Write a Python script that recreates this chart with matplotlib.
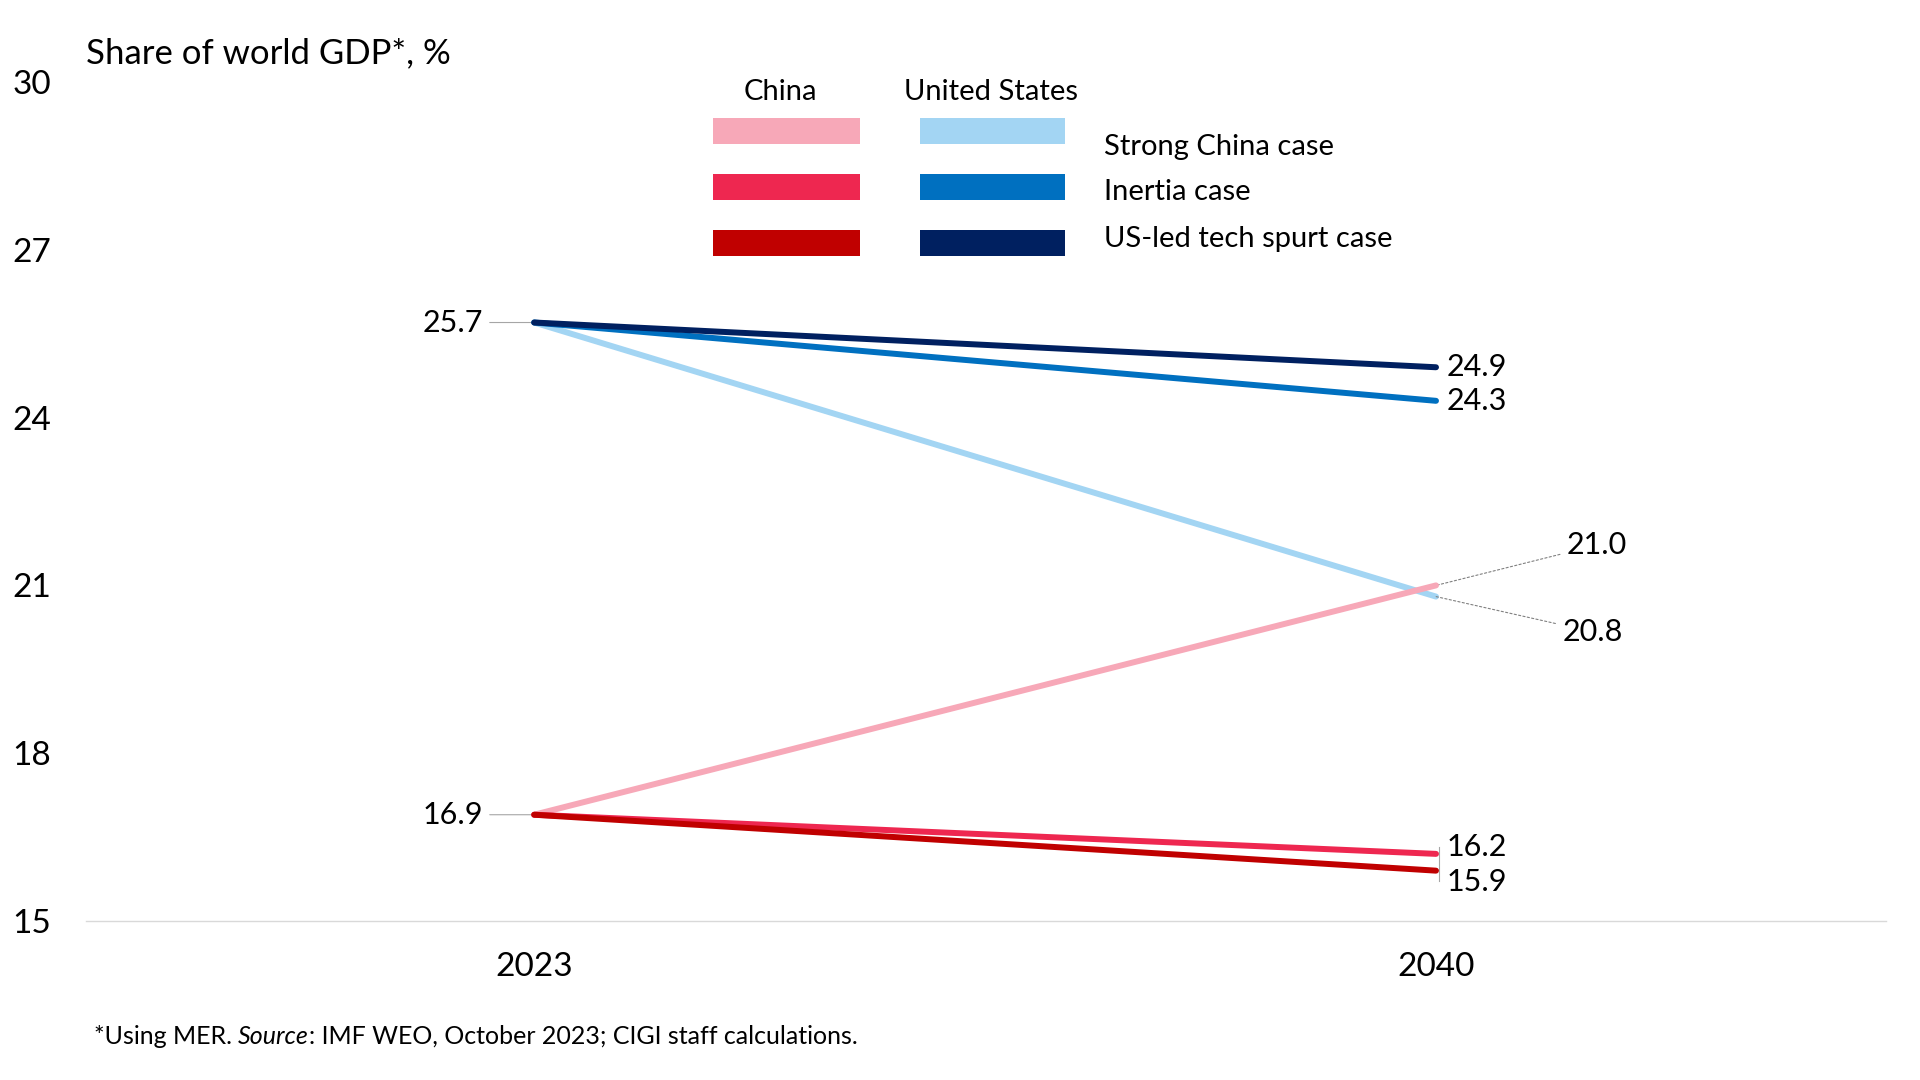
import matplotlib
matplotlib.use("Agg")
import matplotlib.pyplot as plt
from matplotlib.patches import Rectangle

plt.rcParams["font.family"] = ["Lato", "DejaVu Sans"]

# data
years = ["2023", "2040"]
cases = ["Strong China case", "Inertia case", "US-led tech spurt case"]
china_2023 = 16.9
china_2040 = [21.0, 16.2, 15.9]
us_2023 = 25.7
us_2040 = [20.8, 24.3, 24.9]
china_colors = ["#F7A8B8", "#EE2750", "#C00000"]
us_colors = ["#A3D5F3", "#0070C0", "#002060"]
y_ticks = [15, 18, 21, 24, 27, 30]

W, H = 1920, 1080
fig = plt.figure(figsize=(W / 100, H / 100), dpi=100)


def fx(px):
    return px / W


def fy(py):
    return 1 - py / H


ax = fig.add_axes([fx(86), fy(921), fx(1886) - fx(86), fy(82) - fy(921)])
ax.set_xlim(-0.497, 1.499)
ax.set_ylim(15, 30)

# lines, US first so China sits on top where they cross
for i in range(3):
    ax.plot([0, 1], [us_2023, us_2040[i]], color=us_colors[i], lw=4.3,
            solid_capstyle="round", zorder=3 + i)
for i in [0, 2, 1]:
    ax.plot([0, 1], [china_2023, china_2040[i]], color=china_colors[i], lw=4.3,
            solid_capstyle="round", zorder=7 + i)

LBL = 22

# start labels with grey leaders
for v in [us_2023, china_2023]:
    ax.annotate(f"{v:.1f}", xy=(0, v), xytext=(-0.057, v), ha="right",
                va="center", fontsize=LBL,
                arrowprops=dict(arrowstyle="-", color="#A6A6A6", lw=0.8,
                                shrinkA=3, shrinkB=0))

# end labels
for v in [us_2040[2], us_2040[1]]:
    ax.annotate(f"{v:.1f}", xy=(1, v), xytext=(1.012, v),
                ha="left", va="center", fontsize=LBL)
ax.annotate(f"{china_2040[0]:.1f}", xy=(1, china_2040[0]), xytext=(1.145, 21.72),
            ha="left", va="center", fontsize=LBL,
            arrowprops=dict(arrowstyle="-", color="#808080", lw=0.8,
                            linestyle=(0, (2, 2)), shrinkA=3, shrinkB=0))
ax.annotate(f"{us_2040[0]:.1f}", xy=(1, us_2040[0]), xytext=(1.14, 20.17),
            ha="left", va="center", fontsize=LBL,
            arrowprops=dict(arrowstyle="-", color="#808080", lw=0.8,
                            linestyle=(0, (2, 2)), shrinkA=3, shrinkB=0))
ax.annotate(f"{china_2040[1]:.1f}", xy=(1, china_2040[1]), xytext=(1.012, 16.33),
            ha="left", va="center", fontsize=LBL)
ax.annotate(f"{china_2040[2]:.1f}", xy=(1, china_2040[2]), xytext=(1.012, 15.7),
            ha="left", va="center", fontsize=LBL)
# small grey bracket tying the two close end labels to their lines
ax.plot([1.003, 1.003], [16.33, 15.72], color="#A6A6A6", lw=0.8, zorder=2)

# axes styling
ax.set_xticks([0, 1])
ax.set_xticklabels(years, fontsize=24)
ax.set_yticks(y_ticks)
ax.set_yticklabels([str(t) for t in y_ticks], fontsize=24)
ax.tick_params(axis="x", length=0, pad=22)
ax.tick_params(axis="y", length=0, pad=25)
for s in ["top", "right", "left"]:
    ax.spines[s].set_visible(False)
ax.spines["bottom"].set_color("#D9D9D9")
ax.spines["bottom"].set_linewidth(1)

fig.text(fx(86), fy(53), "Share of world GDP*, %", fontsize=25, va="center", ha="left")

# legend, built by hand
fig.text(fx(780), fy(92), "China", fontsize=21, ha="center", va="center")
fig.text(fx(991), fy(92), "United States", fontsize=21, ha="center", va="center")
rows = [131, 187, 243]
label_rows = [147, 192, 239]
for i in range(3):
    fig.add_artist(Rectangle((fx(713), fy(rows[i] + 13)), fx(860) - fx(713),
                             fy(rows[i] - 13) - fy(rows[i] + 13),
                             transform=fig.transFigure, color=china_colors[i], lw=0))
    fig.add_artist(Rectangle((fx(920), fy(rows[i] + 13)), fx(1065) - fx(920),
                             fy(rows[i] - 13) - fy(rows[i] + 13),
                             transform=fig.transFigure, color=us_colors[i], lw=0))
    fig.text(fx(1104), fy(label_rows[i]), cases[i], fontsize=21, ha="left", va="center")

# footnote, pieces chained so the italic word sits in line
renderer = fig.canvas.get_renderer()
x = 94
for part, style in [("*Using MER.", "normal"), ("Source", "italic"),
                    (": IMF WEO, October 2023; CIGI staff calculations.", "normal")]:
    t = fig.text(fx(x), fy(1036), part, fontsize=18, style=style, ha="left", va="center")
    x += t.get_window_extent(renderer).width
    if part == "*Using MER.":
        x += 6

fig.savefig("out.png", dpi=100)
